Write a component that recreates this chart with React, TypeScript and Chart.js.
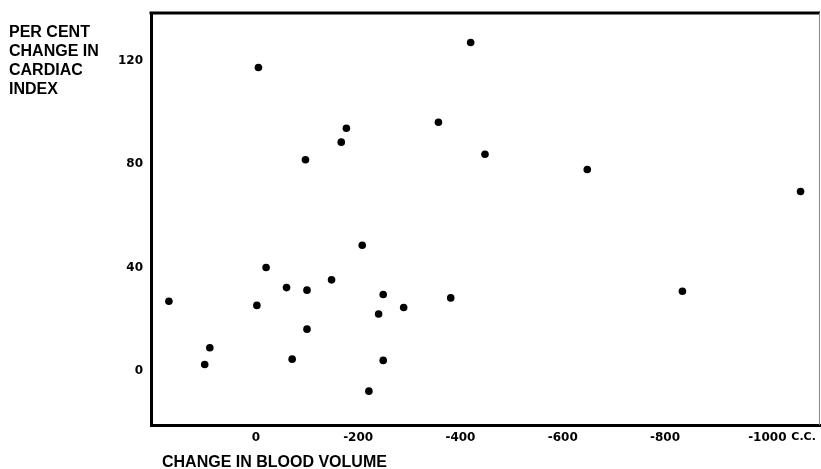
import React, { useEffect, useRef } from "react";
import { Chart, registerables } from "chart.js";

Chart.register(...registerables);

// Change in blood volume (c.c.) for each observation
const bloodVolumeChange = [
  170, 90, 100, -2, -20, -60, -71, -100, -100, -148, -208, -221, -240, -249,
  -249, -289, -381, -834, -5, -420, -177, -167, -97, -357, -448, -648, -1065,
];
// Per cent change in cardiac index for each observation
const cardiacIndexChange = [
  27, 9, 2.5, 25.4, 40.1, 32.3, 4.6, 31.3, 16.2, 35.3, 48.7, -7.8, 22.1, 29.6,
  4.1, 24.6, 28.3, 30.9, 117.5, 127.2, 94.0, 88.6, 81.8, 96.3, 83.9, 78.0, 69.5,
];

const xTickValues = [0, -200, -400, -600, -800, -1000];
const yTickValues = [0, 40, 80, 120];
const xUnitLabel = "C.C.";
const xTitle = "CHANGE IN BLOOD VOLUME";
const yTitleLines = ["PER CENT", "CHANGE IN", "CARDIAC", "INDEX"];

const X_MIN = -1103;
const X_MAX = 205;
const Y_MIN = -20.9;
const Y_MAX = 138.6;

const W = 821;
const H = 469;

const TICK_FONT = { family: "'DejaVu Sans', sans-serif", size: 12, weight: "bold" as const };

const framePlugin = {
  id: "frameAndTitles",
  afterDraw(chart: any) {
    const { ctx, chartArea } = chart;
    const { left, right, top, bottom } = chartArea;
    ctx.save();
    // top border
    ctx.strokeStyle = "#000";
    ctx.lineWidth = 3;
    ctx.beginPath();
    ctx.moveTo(left - 1.5, top);
    ctx.lineTo(right, top);
    ctx.stroke();
    // right border (faint)
    ctx.strokeStyle = "#888";
    ctx.lineWidth = 1;
    ctx.beginPath();
    ctx.moveTo(right - 0.5, top);
    ctx.lineTo(right - 0.5, bottom);
    ctx.stroke();

    ctx.fillStyle = "#000";
    // y title
    ctx.font = "bold 16px 'Liberation Sans', Arial, sans-serif";
    ctx.textAlign = "left";
    ctx.textBaseline = "alphabetic";
    yTitleLines.forEach((line, i) => {
      ctx.fillText(line, 9, 37 + i * 19);
    });
    // x title
    ctx.fillText(xTitle, 162, 467);

    // unit label after last x tick
    const xScale = chart.scales.x;
    const lastPx = xScale.getPixelForValue(xTickValues[xTickValues.length - 1]);
    ctx.font = "bold 11px 'DejaVu Sans', sans-serif";
    ctx.textBaseline = "middle";
    ctx.fillText(xUnitLabel, lastPx + 24, 437);
    ctx.restore();
  },
};

export default function App() {
  const canvasRef = useRef<HTMLCanvasElement | null>(null);

  useEffect(() => {
    if (!canvasRef.current) return;
    const points = bloodVolumeChange.map((x, i) => ({ x, y: cardiacIndexChange[i] }));
    const chart = new Chart(canvasRef.current, {
      type: "scatter",
      data: {
        datasets: [
          {
            data: points,
            backgroundColor: "#000",
            borderColor: "#000",
            borderWidth: 0,
            pointRadius: 3.8,
            pointHoverRadius: 3.8,
          },
        ],
      },
      options: {
        animation: false,
        responsive: false,
        maintainAspectRatio: false,
        layout: { autoPadding: false, padding: { top: 13, right: 1, left: 0, bottom: 0 } },
        plugins: {
          legend: { display: false },
          tooltip: { enabled: false },
        },
        scales: {
          x: {
            type: "linear",
            reverse: true,
            min: X_MIN,
            max: X_MAX,
            grid: { display: false, drawTicks: false },
            border: { display: true, width: 3, color: "#000" },
            afterBuildTicks: (axis: any) => {
              axis.ticks = xTickValues.map((value) => ({ value }));
            },
            afterFit: (axis: any) => {
              axis.height = H - 425;
              axis.paddingLeft = 0;
              axis.paddingRight = 0;
              axis.paddingTop = 0;
              axis.paddingBottom = 0;
            },
            ticks: {
              color: "#000",
              font: TICK_FONT,
              padding: 6,
              maxRotation: 0,
              autoSkip: false,
              callback: (v: any) => String(v),
            },
          },
          y: {
            type: "linear",
            min: Y_MIN,
            max: Y_MAX,
            grid: { display: false, drawTicks: false },
            border: { display: true, width: 3, color: "#000" },
            afterBuildTicks: (axis: any) => {
              axis.ticks = yTickValues.map((value) => ({ value }));
            },
            afterFit: (axis: any) => {
              axis.width = 151;
              axis.paddingLeft = 0;
              axis.paddingRight = 0;
              axis.paddingTop = 0;
              axis.paddingBottom = 0;
            },
            ticks: {
              color: "#000",
              font: TICK_FONT,
              padding: 8,
              autoSkip: false,
              callback: (v: any) => String(v),
            },
          },
        },
      },
      plugins: [framePlugin],
    });
    return () => chart.destroy();
  }, []);

  return (
    <div
      style={{
        position: "fixed",
        left: 0,
        top: 0,
        width: W,
        height: H,
        background: "#fff",
      }}
    >
      <canvas ref={canvasRef} width={W} height={H} style={{ width: W, height: H, display: "block" }} />
    </div>
  );
}
